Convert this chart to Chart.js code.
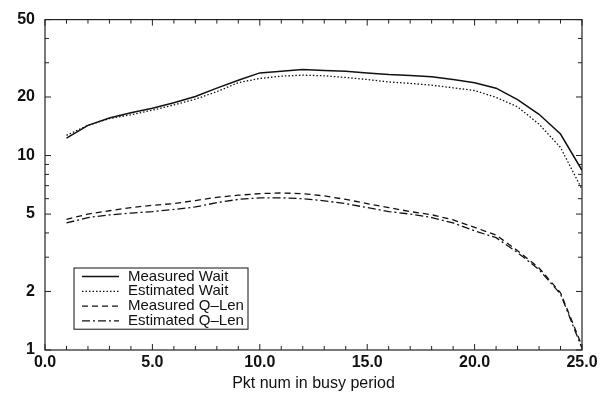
<!DOCTYPE html>
<html>
<head>
<meta charset="utf-8">
<script src="https://cdn.jsdelivr.net/npm/chart.js@4"></script>
<style>
  body { margin: 0; background: #fff; }
  canvas { display: block; }
</style>
</head>
<body>
<canvas id="chart" width="609" height="394"></canvas>
<script>
// Dados
const pktNum = [1, 2, 3, 4, 5, 6, 7, 8, 9, 10, 11, 12, 13, 14, 15, 16, 17, 18, 19, 20, 21, 22, 23, 24, 25];
const measuredWait = [12.3, 14.3, 15.6, 16.6, 17.5, 18.7, 20.1, 22.2, 24.4, 26.6, 27.1, 27.7, 27.4, 27.1, 26.6, 26.1, 25.8, 25.4, 24.6, 23.7, 22.2, 19.4, 16.3, 12.9, 8.4];
const estimatedWait = [12.7, 14.3, 15.5, 16.2, 17.1, 18.2, 19.5, 21.3, 23.7, 24.9, 25.6, 25.9, 25.7, 25.2, 24.6, 23.9, 23.5, 23.0, 22.3, 21.6, 19.9, 17.8, 14.5, 11.0, 6.7];
const measuredQLen = [4.7, 5.0, 5.2, 5.4, 5.55, 5.66, 5.87, 6.1, 6.25, 6.37, 6.42, 6.37, 6.2, 5.95, 5.66, 5.4, 5.15, 4.96, 4.67, 4.27, 3.9, 3.24, 2.64, 1.97, 1.05];
const estimatedQLen = [4.5, 4.8, 4.95, 5.06, 5.15, 5.28, 5.44, 5.72, 5.95, 6.06, 6.06, 6.0, 5.85, 5.66, 5.4, 5.15, 5.0, 4.8, 4.5, 4.1, 3.78, 3.17, 2.59, 1.94, 1.02];

const yLabelTicks = [1, 2, 5, 10, 20, 50];
const yMinorTicks = [3, 4, 6, 7, 8, 9, 30, 40];
const xMax = 25;

const FONT = '"Liberation Sans", Arial, sans-serif';

function toPoints(ys) {
    return pktNum.map((x, i) => ({ x: x, y: ys[i] }));
}

function lineSet(label, ys, dash, width) {
    return {
        label: label,
        data: toPoints(ys),
        borderColor: '#111',
        borderWidth: width,
        borderDash: dash,
        pointRadius: 0,
        tension: 0,
        fill: false
    };
}

// Marcas internas dos eixos e moldura
const frameTicks = {
    id: 'frameTicks',
    afterDatasetsDraw(chart) {
        const { ctx, chartArea: a, scales } = chart;
        const xs = scales.x, ys = scales.y;
        ctx.save();
        ctx.strokeStyle = '#222';
        ctx.lineWidth = 1.2;
        ctx.strokeRect(a.left, a.top, a.right - a.left, a.bottom - a.top);
        ctx.lineWidth = 1;
        ctx.beginPath();
        for (let v = 0; v <= xMax; v++) {
            const px = xs.getPixelForValue(v);
            const len = v % 5 === 0 ? 6 : 4;
            ctx.moveTo(px, a.bottom); ctx.lineTo(px, a.bottom - len);
            ctx.moveTo(px, a.top); ctx.lineTo(px, a.top + len);
        }
        yLabelTicks.concat(yMinorTicks).forEach(v => {
            const py = ys.getPixelForValue(v);
            const len = yLabelTicks.includes(v) ? 6 : 4;
            ctx.moveTo(a.left, py); ctx.lineTo(a.left + len, py);
            ctx.moveTo(a.right, py); ctx.lineTo(a.right - len, py);
        });
        ctx.stroke();
        ctx.restore();
    }
};

// Legenda em caixa dentro da área do gráfico
const boxLegend = {
    id: 'boxLegend',
    afterDraw(chart) {
        const { ctx } = chart;
        const left = 74, top = 268, w = 174, rowH = 14.8;
        const sets = chart.data.datasets;
        const h = rowH * sets.length + 2;
        ctx.save();
        ctx.fillStyle = '#fff';
        ctx.fillRect(left, top, w, h);
        ctx.strokeStyle = '#111';
        ctx.lineWidth = 1;
        ctx.strokeRect(left, top, w, h);
        ctx.font = '15px ' + FONT;
        ctx.textBaseline = 'middle';
        ctx.fillStyle = '#111';
        sets.forEach((ds, i) => {
            const cy = top + 8.5 + i * rowH;
            ctx.beginPath();
            ctx.setLineDash(ds.borderDash || []);
            ctx.lineWidth = ds.borderWidth;
            ctx.strokeStyle = ds.borderColor;
            ctx.moveTo(82, cy);
            ctx.lineTo(119, cy);
            ctx.stroke();
            ctx.setLineDash([]);
            ctx.fillText(ds.label, 128, cy);
        });
        ctx.restore();
    }
};

const whiteBg = {
    id: 'whiteBg',
    beforeDraw(chart) {
        const { ctx } = chart;
        ctx.save();
        ctx.fillStyle = '#fff';
        ctx.fillRect(0, 0, chart.width, chart.height);
        ctx.restore();
    }
};

new Chart(document.getElementById('chart').getContext('2d'), {
    type: 'line',
    data: {
        datasets: [
            lineSet('Measured Wait', measuredWait, [], 1.5),
            lineSet('Estimated Wait', estimatedWait, [1.5, 2], 1.3),
            lineSet('Measured Q\u2013Len', measuredQLen, [6, 4], 1.3),
            lineSet('Estimated Q\u2013Len', estimatedQLen, [8, 3, 2, 3], 1.3)
        ]
    },
    options: {
        responsive: false,
        animation: false,
        layout: { padding: { top: 15, right: 27, left: 0, bottom: 0 } },
        plugins: {
            legend: { display: false },
            tooltip: { enabled: false }
        },
        scales: {
            x: {
                type: 'linear',
                min: 0,
                max: xMax,
                grid: { display: false, drawTicks: false, tickLength: 0 },
                border: { display: false },
                ticks: {
                    stepSize: 5,
                    padding: 3,
                    color: '#111',
                    font: { family: FONT, size: 16, weight: 'bold' },
                    maxRotation: 0,
                    callback: v => v.toFixed(1)
                },
                title: {
                    display: true,
                    text: 'Pkt num in busy period',
                    color: '#111',
                    font: { family: FONT, size: 16 },
                    padding: { top: 0, bottom: 1 }
                },
                afterFit: s => { s.height = 44; }
            },
            y: {
                type: 'logarithmic',
                min: 1,
                max: 50,
                grid: { display: false, drawTicks: false, tickLength: 0 },
                border: { display: false },
                afterBuildTicks: s => { s.ticks = yLabelTicks.map(v => ({ value: v })); },
                ticks: {
                    padding: 10,
                    color: '#111',
                    font: { family: FONT, size: 16, weight: 'bold' },
                    callback: v => String(v)
                },
                afterFit: s => { s.width = 45; }
            }
        }
    },
    plugins: [whiteBg, frameTicks, boxLegend]
});
</script>
</body>
</html>
